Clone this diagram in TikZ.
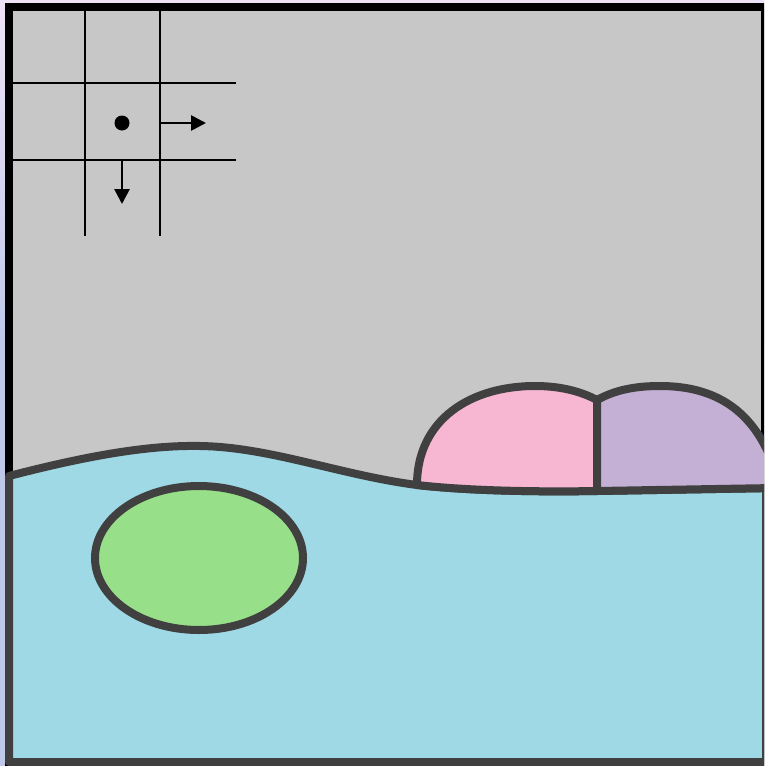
\documentclass[tikz,border=0pt]{standalone}
\usetikzlibrary{arrows.meta}
\definecolor{cellgray}{HTML}{C7C7C7}
\definecolor{edgegray}{HTML}{404040}
\definecolor{waterblue}{HTML}{9ED9E5}
\definecolor{cellpink}{HTML}{F7B6D2}
\definecolor{cellpurple}{HTML}{C5B0D5}
\definecolor{cellgreen}{HTML}{98DF8A}
\definecolor{bglav}{HTML}{EEE2F6}
\definecolor{bgblue}{HTML}{C0C8EA}
\begin{document}
\begin{tikzpicture}[x=1pt,y=-1pt,
  outline/.style={draw=edgegray,line width=8pt,line join=round},
  gridline/.style={draw=black,line width=2.7pt},
  arrowline/.style={gridline,-{Triangle[length=15pt,width=15pt]}}]
\useasboundingbox (0,0) rectangle (764,766);
\begin{scope}
\clip (0,0) rectangle (764,766);
% page background
\fill[bgblue] (0,0) rectangle (764,766);
\shade[top color=bglav,bottom color=bgblue] (0,0) rectangle (764,340);
% domain
\fill[cellgray] (9,7) rectangle (775,775);
\draw[black,line width=8pt] (9,7) rectangle (765,780);
% water region
\fill[waterblue,outline] (9,476) .. controls (90,455) and (150,445) .. (200,446)
  .. controls (270,447) and (340,475) .. (417,485)
  .. controls (470,491) and (540,492) .. (597,491)
  -- (775,488) -- (766,488) -- (766,762) -- (9,762) -- cycle;
% pink cell
\fill[cellpink,outline] (417,485) .. controls (417,420) and (470,386) .. (535,386)
  .. controls (562,386) and (582,392) .. (597,400) -- (597,491)
  .. controls (540,492) and (470,491) .. (417,485) -- cycle;
% purple cell
\fill[cellpurple,outline] (597,400) .. controls (615,390) and (635,386) .. (660,386)
  .. controls (715,386) and (755,410) .. (775,470) -- (775,488) -- (597,491) -- cycle;
% green cell
\fill[cellgreen,outline] (199,558) ellipse [x radius=104, y radius=72];
% grid
\draw[gridline] (85,11) -- (85,236);
\draw[gridline] (160,11) -- (160,236);
\draw[gridline] (13,83) -- (236,83);
\draw[gridline] (13,160) -- (236,160);
\coordinate (ctr) at (122,123);
\coordinate (rface) at (161,123);
\coordinate (rtip) at (206,123);
\coordinate (bface) at (122,160);
\coordinate (btip) at (122,204);
\fill[black] (ctr) circle (7.5);
\draw[arrowline] (rface) -- (rtip);
\draw[arrowline] (bface) -- (btip);
\end{scope}
\end{tikzpicture}
\end{document}
